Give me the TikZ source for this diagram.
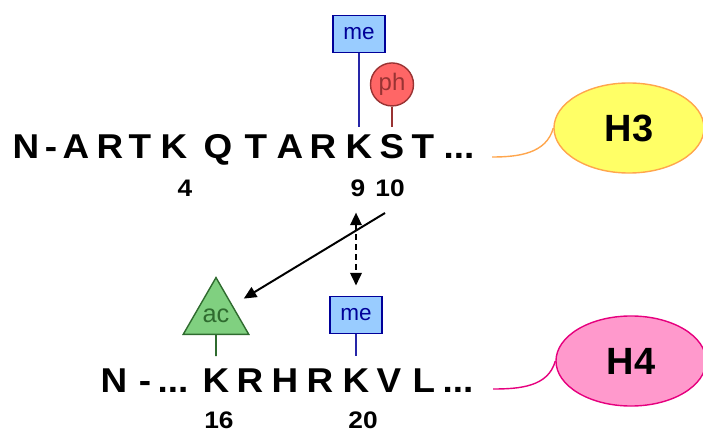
\documentclass[tikz,border=0pt]{standalone}
\usepackage{fontspec}
\setmainfont{Liberation Sans}
\newfontfamily\seqfont[FakeStretch=1.07]{Liberation Sans}
\newfontfamily\numfont[FakeStretch=1.1]{Liberation Sans}
\usepackage{xcolor}
\usetikzlibrary{shapes.geometric,arrows.meta,positioning}

\definecolor{meblue}{HTML}{99CCFF}
\definecolor{medark}{HTML}{000099}
\definecolor{phred}{HTML}{FF6666}
\definecolor{phdark}{HTML}{993333}
\definecolor{acgreen}{HTML}{80D080}
\definecolor{acdark}{HTML}{2F6B2F}
\definecolor{hthree}{HTML}{FFFF66}
\definecolor{hthreeline}{HTML}{FFA64D}
\definecolor{hfour}{HTML}{FF99CC}
\definecolor{hfourline}{HTML}{E6007E}

\begin{document}
\begin{tikzpicture}[
        x=0.025cm, y=-0.025cm,
        residue/.style={font=\seqfont\fontsize{24.5}{28}\selectfont\bfseries, inner sep=0pt, anchor=base},
        resnum/.style={font=\numfont\fontsize{17}{20}\selectfont\bfseries, inner sep=0pt, anchor=base},
        mebox/.style={draw=medark, fill=meblue, line width=1pt, minimum width=1.3cm, minimum height=0.925cm, inner sep=0pt, text=medark, font=\fontsize{16}{18}\selectfont},
        phball/.style={draw=phdark, fill=phred, circle, line width=1pt, minimum size=1.075cm, inner sep=0pt, text=phdark, font=\fontsize{17}{18}\selectfont},
        actri/.style={draw=acdark, fill=acgreen, regular polygon, regular polygon sides=3, minimum size=1.5cm, inner sep=0pt, line width=1pt, text=acdark, font=\fontsize{18}{20}\selectfont},
        histone/.style={ellipse, minimum width=3.75cm, minimum height=2.25cm, inner sep=0pt, line width=1pt, font=\fontsize{27}{30}\selectfont\bfseries},
        stalk/.style={line width=1.4pt},
        arrow/.style={-{Triangle[length=9pt,width=8pt]}, line width=1.4pt},
        dasharrow/.style={{Triangle[length=9pt,width=8pt]}-{Triangle[length=9pt,width=8pt]}, line width=1.8pt, dash pattern=on 4pt off 3pt}
    ]
        \useasboundingbox (0,0) rectangle (703,432);

        % H3 tail
        \foreach \x/\r [count=\i] in {26/N, 51/-, 76/A, 110/R, 140/T, 174/K, 218/Q, 256/T, 290/A, 323/R, 359/K, 392/S, 423/T}
            \node[residue] (a\i) at (\x,159) {\r};
        \node[residue] (a14) at (459,159) {...};
        \node[resnum] (n4) at (185,197) {4};
        \node[resnum] (n9) at (358,197) {9};
        \node[resnum] (n10) at (390,197) {10};

        % H4 tail
        \foreach \x/\r [count=\i] in {114/N, 145/-}
            \node[residue] (b\i) at (\x,392) {\r};
        \node[residue] (b3) at (173,392) {...};
        \foreach \x/\r [count=\i from 4] in {216/K, 250/R, 285/H, 320/R, 356/K, 389/V, 424/L}
            \node[residue] (b\i) at (\x,392) {\r};
        \node[residue] (b11) at (458,392) {...};
        \node[resnum] (n16) at (219,428) {16};
        \node[resnum] (n20) at (363,428) {20};

        % modifications
        \node[mebox, above=2.05cm of a11] (me1) {me};
        \node[phball, above=0.7cm of a12] (ph) {ph};
        \node[mebox, above=0.85cm of b8] (me2) {me};
        \node[actri, above=0.825cm of b4] (ac) {ac};

        \draw[stalk, medark!85, shorten >=0.2cm] (me1) -- (a11);
        \draw[stalk, phdark, shorten >=0.18cm] (ph) -- (a12);
        \draw[stalk, medark!85, shorten >=0.3cm] (me2) -- (b8);
        \draw[stalk, acdark, shorten >=0.3cm] (ac) -- (b4);

        % histones
        \node[histone, fill=hthree, draw=hthreeline] (h3) at (629,128) {H3};
        \node[histone, fill=hfour, draw=hfourline] (h4) at (631,361) {H4};
        \coordinate (t3) at (492,157);
        \coordinate (t4) at (493,389);
        \draw[hthreeline, line width=1pt] (t3) to[out=0, in=-105] (h3.west);
        \draw[hfourline, line width=1pt] (t4) to[out=0, in=-105] (h4.west);

        % crosstalk
        \coordinate (cross) at (385,213);
        \draw[arrow, shorten >=0.32cm] (cross) -- (ac);
        \draw[dasharrow, shorten <=0.375cm, shorten >=0.25cm] (n9.south -| me2.north) -- (me2.north);
    \end{tikzpicture}
\end{document}
